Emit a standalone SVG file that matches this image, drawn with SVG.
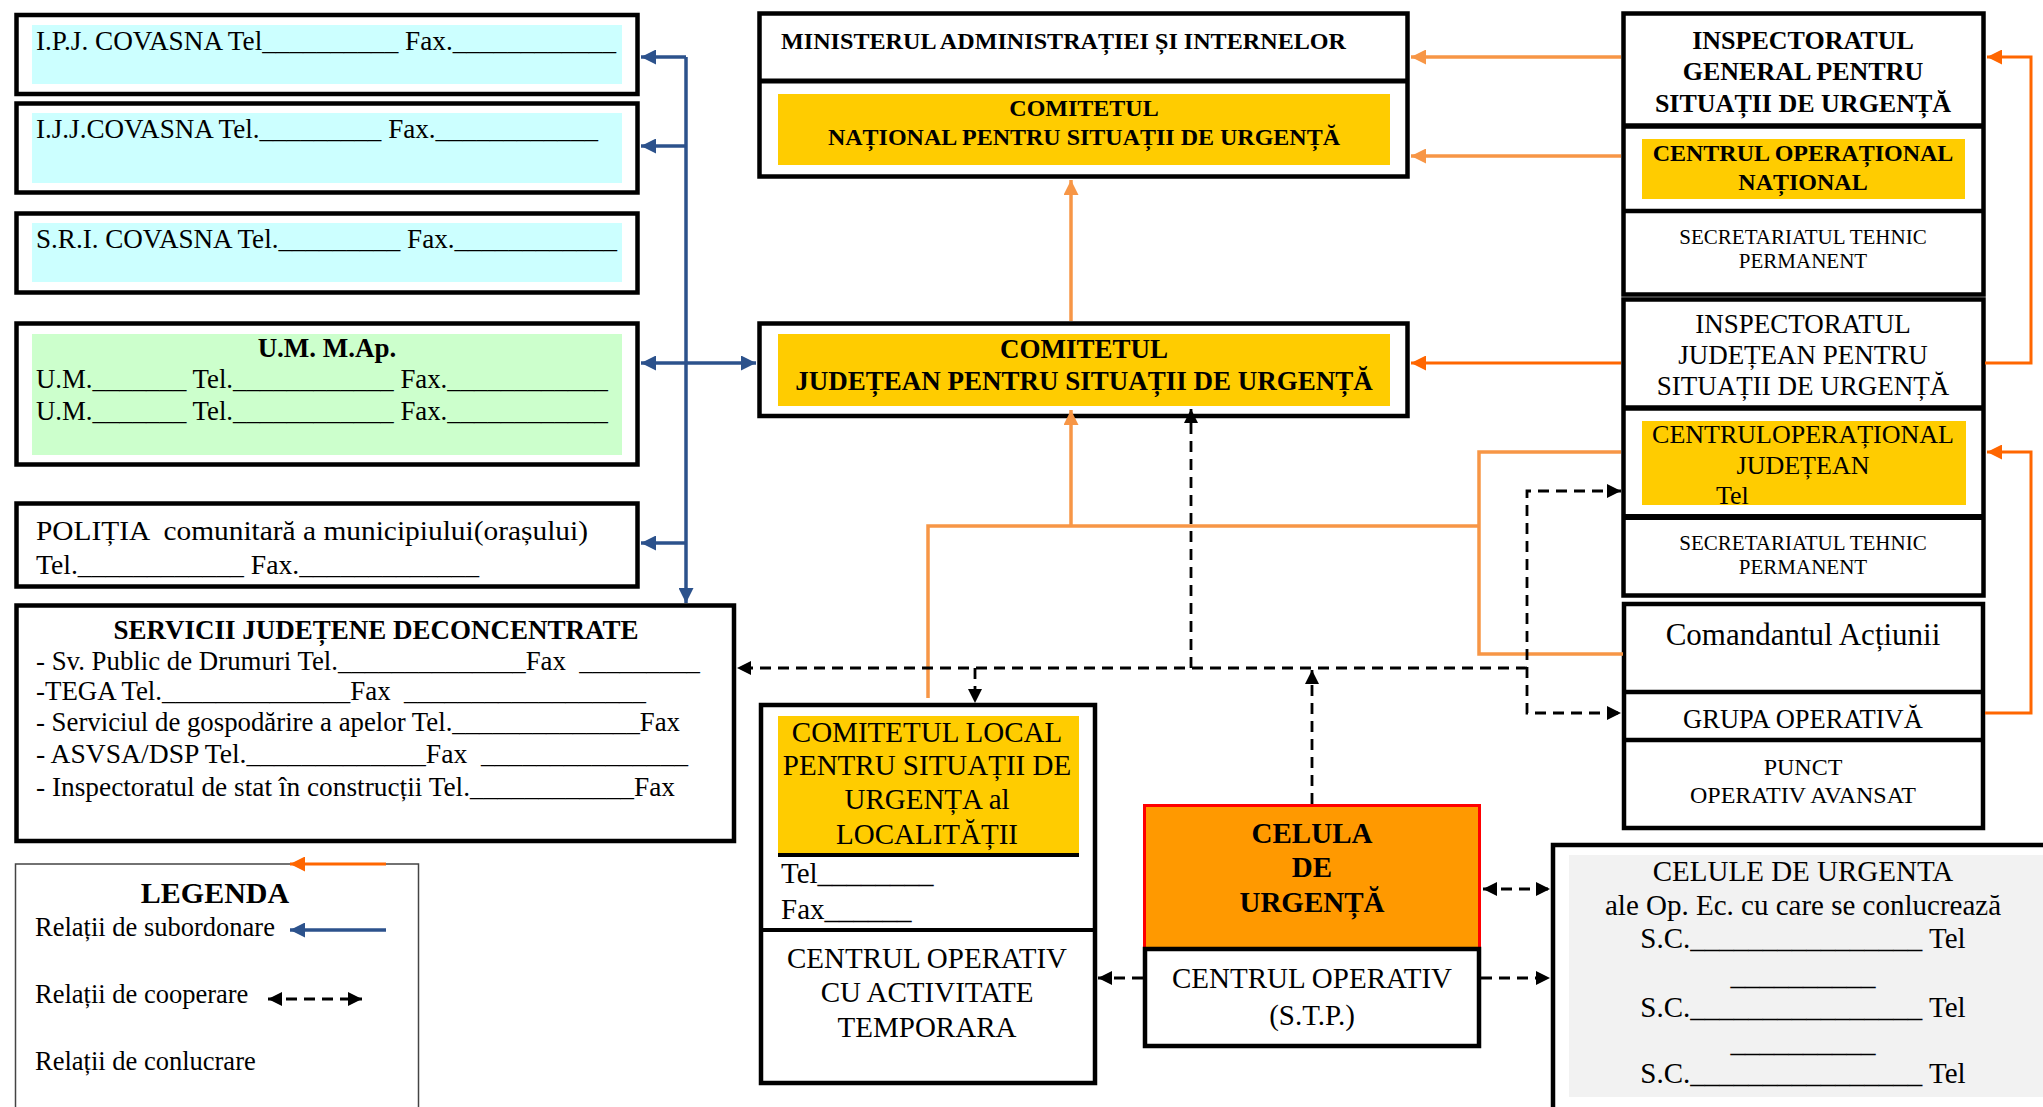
<svg xmlns="http://www.w3.org/2000/svg" width="2043" height="1107" viewBox="0 0 2043 1107">
<defs>
<style>
text{font-family:"Liberation Serif","Times New Roman",serif;fill:#000;white-space:pre}
.b{font-weight:bold}
.c{text-anchor:middle}
.box{fill:#fff;stroke:#000;stroke-width:4.5}
.blue{fill:none;stroke:#2C528C;stroke-width:3.5}
.lor{fill:none;stroke:#F79646;stroke-width:3.5}
.dor{fill:none;stroke:#FF6600;stroke-width:3}
.dash{fill:none;stroke:#000;stroke-width:2.8;stroke-dasharray:11 7}
</style>
<marker id="mB" viewBox="0 0 10 10" refX="10" refY="5" markerWidth="15" markerHeight="15" markerUnits="userSpaceOnUse" orient="auto-start-reverse"><path d="M0,0 L10,5 L0,10 z" fill="#2C528C"/></marker>
<marker id="mL" viewBox="0 0 10 10" refX="10" refY="5" markerWidth="15" markerHeight="15" markerUnits="userSpaceOnUse" orient="auto-start-reverse"><path d="M0,0 L10,5 L0,10 z" fill="#F79646"/></marker>
<marker id="mD" viewBox="0 0 10 10" refX="10" refY="5" markerWidth="15" markerHeight="15" markerUnits="userSpaceOnUse" orient="auto-start-reverse"><path d="M0,0 L10,5 L0,10 z" fill="#FF6600"/></marker>
<marker id="mK" viewBox="0 0 10 10" refX="10" refY="5" markerWidth="14" markerHeight="14" markerUnits="userSpaceOnUse" orient="auto-start-reverse"><path d="M0,0 L10,5 L0,10 z" fill="#000"/></marker>
</defs>
<rect x="0" y="0" width="2043" height="1107" fill="#fff"/>

<g id="ipj">
<rect class="box" x="16.5" y="15" width="621" height="79"/>
<rect x="32" y="25" width="590" height="59" fill="#CCFFFF"/>
<text x="36" y="50" font-size="27" textLength="580" lengthAdjust="spacingAndGlyphs">I.P.J. COVASNA Tel__________ Fax.____________</text>
</g>
<g id="ijj">
<rect class="box" x="16.5" y="103.5" width="621" height="89"/>
<rect x="32" y="113" width="590" height="70" fill="#CCFFFF"/>
<text x="36" y="138" font-size="27" textLength="562" lengthAdjust="spacingAndGlyphs">I.J.J.COVASNA Tel._________ Fax.____________</text>
</g>
<g id="sri">
<rect class="box" x="16.5" y="213.5" width="621" height="79"/>
<rect x="32" y="223" width="590" height="59" fill="#CCFFFF"/>
<text x="36" y="248" font-size="27" textLength="581" lengthAdjust="spacingAndGlyphs">S.R.I. COVASNA Tel._________ Fax.____________</text>
</g>
<g id="um">
<rect class="box" x="16.5" y="323.5" width="621" height="141"/>
<rect x="32" y="334" width="590" height="121" fill="#CCFFCC"/>
<text class="b c" x="327" y="357" font-size="27">U.M. M.Ap.</text>
<text x="36" y="388" font-size="27" textLength="572" lengthAdjust="spacingAndGlyphs">U.M._______ Tel.____________ Fax.____________</text>
<text x="36" y="420" font-size="27" textLength="572" lengthAdjust="spacingAndGlyphs">U.M._______ Tel.____________ Fax.____________</text>
</g>
<g id="politia">
<rect class="box" x="16.5" y="503.5" width="621" height="83"/>
<text x="36" y="540" font-size="27" textLength="552" lengthAdjust="spacingAndGlyphs">POLIȚIA  comunitară a municipiului(orașului)</text>
<text x="36" y="574" font-size="27" textLength="443" lengthAdjust="spacingAndGlyphs">Tel.____________ Fax._____________</text>
</g>
<g id="servicii">
<rect class="box" x="16.5" y="605.5" width="717.5" height="235.5"/>
<text class="b c" x="376" y="639" font-size="27">SERVICII JUDEȚENE DECONCENTRATE</text>
<text x="36" y="670" font-size="27" textLength="664" lengthAdjust="spacingAndGlyphs">- Sv. Public de Drumuri Tel.______________Fax  _________</text>
<text x="36" y="700" font-size="27" textLength="610" lengthAdjust="spacingAndGlyphs">-TEGA Tel.______________Fax  __________________</text>
<text x="36" y="731" font-size="27" textLength="644" lengthAdjust="spacingAndGlyphs">- Serviciul de gospodărire a apelor Tel.______________Fax</text>
<text x="36" y="763" font-size="27" textLength="652" lengthAdjust="spacingAndGlyphs">- ASVSA/DSP Tel._____________Fax  _______________</text>
<text x="36" y="796" font-size="27" textLength="639" lengthAdjust="spacingAndGlyphs">- Inspectoratul de stat în construcții Tel.____________Fax</text>
</g>
<g id="legenda">
<rect x="15.5" y="864" width="403" height="260" fill="#fff" stroke="#444" stroke-width="1.5"/>
<text class="b c" x="215" y="903" font-size="30">LEGENDA</text>
<text x="35" y="936" font-size="26.5">Relații de subordonare</text>
<text x="35" y="1003" font-size="26.5">Relații de cooperare</text>
<text x="35" y="1070" font-size="26.5">Relații de conlucrare</text>
</g>

<g id="ministerul">
<rect class="box" x="759.5" y="13.5" width="648" height="163" stroke-width="5"/>
<line x1="759.5" y1="81" x2="1407.5" y2="81" stroke="#000" stroke-width="5"/>
<text class="b" x="781" y="49" font-size="24" textLength="565" lengthAdjust="spacingAndGlyphs">MINISTERUL ADMINISTRAȚIEI ȘI INTERNELOR</text>
<rect x="778" y="94" width="612" height="71" fill="#FFCC00"/>
<text class="b c" x="1084" y="116" font-size="24">COMITETUL</text>
<text class="b c" x="1084" y="145" font-size="24">NAȚIONAL PENTRU SITUAȚII DE URGENȚĂ</text>
</g>
<g id="judetean">
<rect class="box" x="759.5" y="323.5" width="648" height="92.5" stroke-width="5"/>
<rect x="778" y="334" width="612" height="72" fill="#FFCC00"/>
<text class="b c" x="1084" y="358" font-size="27">COMITETUL</text>
<text class="b c" x="1084" y="390" font-size="27">JUDEȚEAN PENTRU SITUAȚII DE URGENȚĂ</text>
</g>

<g id="igsu">
<rect class="box" x="1623.5" y="13.5" width="360" height="281" stroke-width="5.5"/>
<line x1="1623.5" y1="126" x2="1983.5" y2="126" stroke="#000" stroke-width="5.5"/>
<line x1="1623.5" y1="211" x2="1983.5" y2="211" stroke="#000" stroke-width="4.5"/>
<text class="b c" x="1803" y="49" font-size="26">INSPECTORATUL</text>
<text class="b c" x="1803" y="80" font-size="26">GENERAL PENTRU</text>
<text class="b c" x="1803" y="112" font-size="26">SITUAȚII DE URGENȚĂ</text>
<rect x="1642" y="139" width="323" height="60" fill="#FFCC00"/>
<text class="b c" x="1803" y="161" font-size="24">CENTRUL OPERAȚIONAL</text>
<text class="b c" x="1803" y="190" font-size="24">NAȚIONAL</text>
<text class="c" x="1803" y="244" font-size="21">SECRETARIATUL TEHNIC</text>
<text class="c" x="1803" y="268" font-size="21">PERMANENT</text>
</g>
<g id="ijsu">
<rect class="box" x="1623.5" y="299.5" width="360" height="296" stroke-width="5.5"/>
<line x1="1623.5" y1="408" x2="1983.5" y2="408" stroke="#000" stroke-width="5.5"/>
<line x1="1623.5" y1="517" x2="1983.5" y2="517" stroke="#000" stroke-width="6"/>
<text class="c" x="1803" y="333" font-size="27">INSPECTORATUL</text>
<text class="c" x="1803" y="364" font-size="27">JUDEȚEAN PENTRU</text>
<text class="c" x="1803" y="395" font-size="27">SITUAȚII DE URGENȚĂ</text>
<rect x="1642" y="421" width="324" height="84" fill="#FFCC00"/>
<text class="c" x="1803" y="443" font-size="26">CENTRULOPERAȚIONAL</text>
<text class="c" x="1803" y="474" font-size="26">JUDEȚEAN</text>
<text x="1716" y="504" font-size="26">Tel</text>
<text class="c" x="1803" y="550" font-size="21">SECRETARIATUL TEHNIC</text>
<text class="c" x="1803" y="574" font-size="21">PERMANENT</text>
</g>
<g id="comandant">
<rect class="box" x="1624" y="604" width="359" height="224" stroke-width="4.5"/>
<line x1="1624" y1="692" x2="1983" y2="692" stroke="#000" stroke-width="4.5"/>
<line x1="1624" y1="740" x2="1983" y2="740" stroke="#000" stroke-width="4.5"/>
<text class="c" x="1803" y="645" font-size="31">Comandantul Acțiunii</text>
<text class="c" x="1803" y="728" font-size="26.5">GRUPA OPERATIVĂ</text>
<text class="c" x="1803" y="775" font-size="24">PUNCT</text>
<text class="c" x="1803" y="803" font-size="24">OPERATIV AVANSAT</text>
</g>

<g id="local">
<rect class="box" x="761" y="705" width="334" height="378" stroke-width="4"/>
<rect x="778" y="716" width="301" height="139" fill="#FFCC00"/>
<line x1="778" y1="855" x2="1079" y2="855" stroke="#000" stroke-width="4"/>
<line x1="761" y1="930" x2="1095" y2="930" stroke="#000" stroke-width="4"/>
<text class="c" x="927" y="742" font-size="29">COMITETUL LOCAL</text>
<text class="c" x="927" y="775" font-size="29">PENTRU SITUAȚII DE</text>
<text class="c" x="927" y="809" font-size="29">URGENȚA al</text>
<text class="c" x="927" y="844" font-size="29">LOCALITĂȚII</text>
<text x="781" y="883" font-size="29">Tel________</text>
<text x="781" y="919" font-size="29">Fax______</text>
<text class="c" x="927" y="968" font-size="29">CENTRUL OPERATIV</text>
<text class="c" x="927" y="1002" font-size="29">CU ACTIVITATE</text>
<text class="c" x="927" y="1037" font-size="29">TEMPORARA</text>
</g>
<g id="celula">
<rect x="1144.5" y="805.5" width="335" height="143" fill="#FF9900" stroke="#FF0000" stroke-width="3"/>
<text class="b c" x="1312" y="843" font-size="29">CELULA</text>
<text class="b c" x="1312" y="877" font-size="29">DE</text>
<text class="b c" x="1312" y="912" font-size="29">URGENȚĂ</text>
<rect class="box" x="1145" y="949" width="334" height="97" stroke-width="4.5"/>
<text class="c" x="1312" y="988" font-size="29">CENTRUL OPERATIV</text>
<text class="c" x="1312" y="1025" font-size="29">(S.T.P.)</text>
</g>
<g id="celule">
<rect class="box" x="1553" y="845" width="500" height="270" stroke-width="3.5"/>
<rect x="1569" y="855" width="474" height="242" fill="#F2F2F2"/>
<text class="c" x="1803" y="881" font-size="29">CELULE DE URGENTA</text>
<text class="c" x="1803" y="915" font-size="29">ale Op. Ec. cu care se conlucrează</text>
<text class="c" x="1803" y="948" font-size="29">S.C.________________ Tel</text>
<text class="c" x="1803" y="985" font-size="29">__________</text>
<text class="c" x="1803" y="1017" font-size="29">S.C.________________ Tel</text>
<text class="c" x="1803" y="1052" font-size="29">__________</text>
<text class="c" x="1803" y="1083" font-size="29">S.C.________________ Tel</text>
</g>

<g id="connectors">
<path class="blue" d="M686,57 V603" marker-end="url(#mB)"/>
<path class="blue" d="M686,57 H641" marker-end="url(#mB)"/>
<path class="blue" d="M686,146 H641" marker-end="url(#mB)"/>
<path class="blue" d="M641,363 H756" marker-start="url(#mB)" marker-end="url(#mB)"/>
<path class="blue" d="M686,543 H641" marker-end="url(#mB)"/>
<path class="lor" d="M1621,57 H1411" marker-end="url(#mL)"/>
<path class="lor" d="M1621,156 H1411" marker-end="url(#mL)"/>
<path class="lor" d="M1071,321 V180" marker-end="url(#mL)"/>
<path class="lor" d="M1621,452 H1479 V654 H1623"/>
<path class="lor" d="M1479,526 H928 V698"/>
<path class="lor" d="M1071,526 V410" marker-end="url(#mL)"/>
<path class="dor" d="M1621,363 H1411" marker-end="url(#mD)"/>
<path class="dor" d="M1985,363 H2031 V57 H1987" marker-end="url(#mD)"/>
<path class="dor" d="M1985,713 H2031 V452 H1987" marker-end="url(#mD)"/>
<path class="dash" d="M1527,668 H737" marker-end="url(#mK)"/>
<path class="dash" d="M1191,668 V409" marker-end="url(#mK)"/>
<path class="dash" d="M975,668 V703" marker-end="url(#mK)"/>
<path class="dash" d="M1312,804 V670" marker-end="url(#mK)"/>
<path class="dash" d="M1621,491 H1527 V713 H1621" marker-start="url(#mK)" marker-end="url(#mK)"/>
<path class="dash" d="M1483,889 H1550" marker-start="url(#mK)" marker-end="url(#mK)"/>
<path class="dash" d="M1143,978 H1098" marker-end="url(#mK)"/>
<path class="dash" d="M1481,978 H1550" marker-end="url(#mK)"/>
<path class="dor" d="M386,864 H290" marker-end="url(#mD)"/>
<path class="blue" d="M386,930 H290" marker-end="url(#mB)"/>
<path class="dash" d="M268,999 H362" marker-start="url(#mK)" marker-end="url(#mK)"/>
</g>
</svg>
